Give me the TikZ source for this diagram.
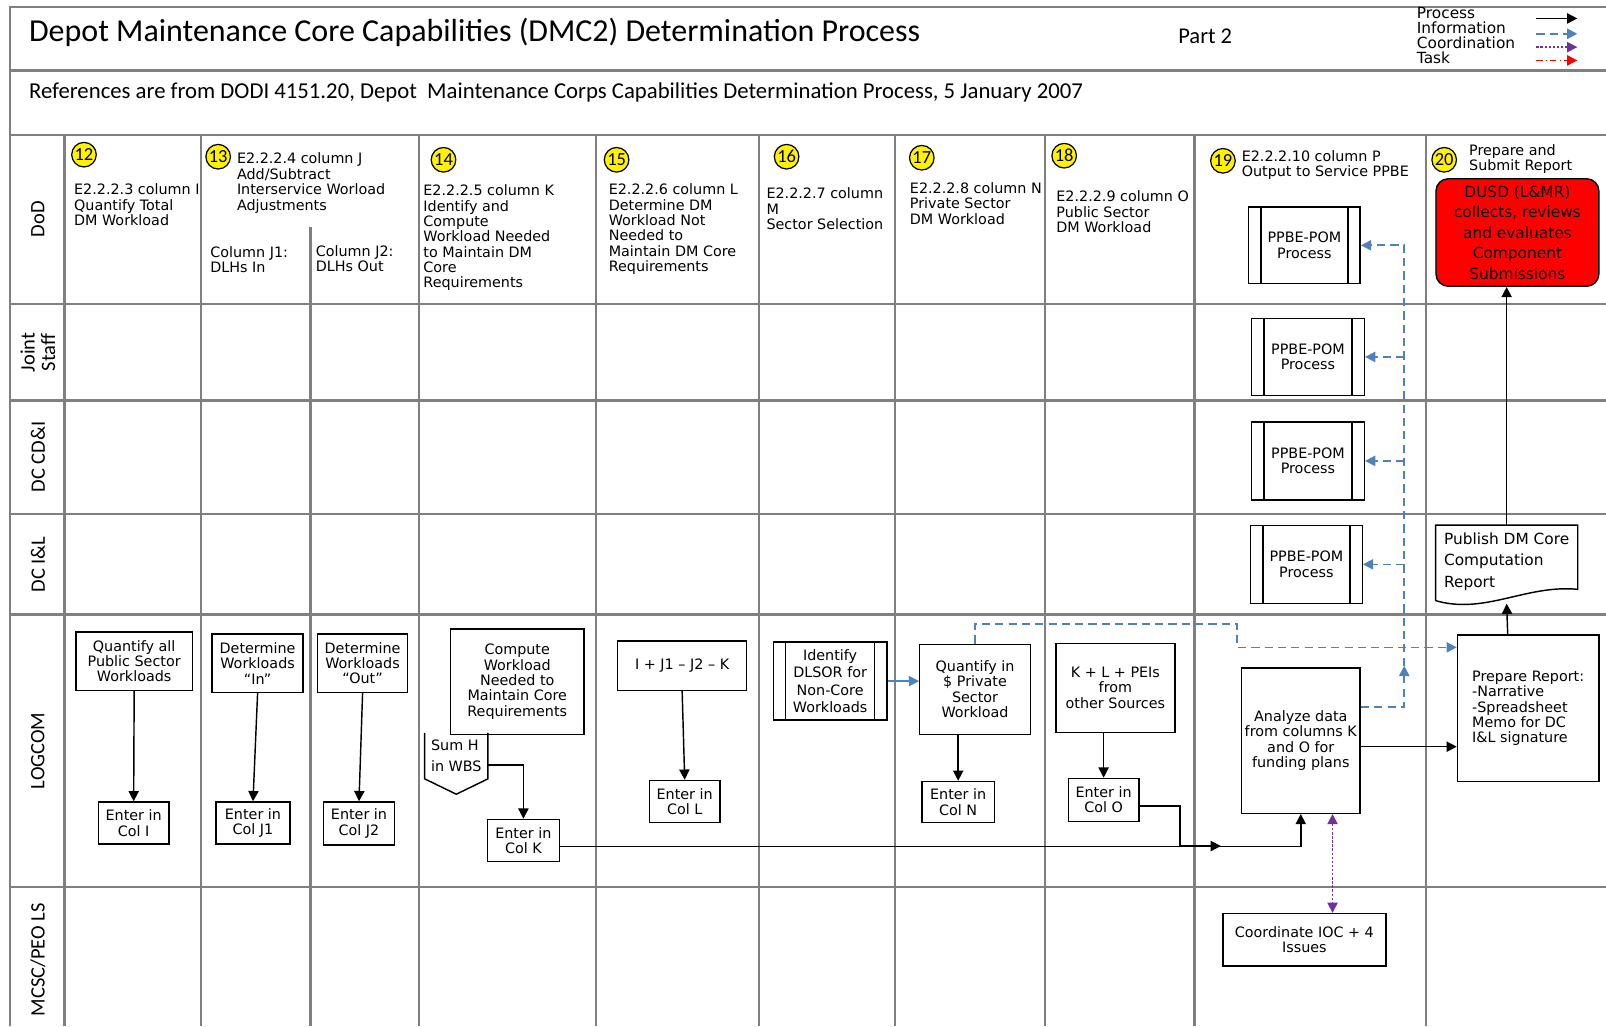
\documentclass[tikz,border=0pt]{standalone}
\usepackage{fontspec}
\setmainfont{DejaVu Sans}
\newfontfamily\calfont{Carlito}
\usetikzlibrary{arrows.meta}
\definecolor{infoblue}{RGB}{79,129,189}
\definecolor{coordpurple}{RGB}{112,48,160}
\definecolor{lanegray}{RGB}{128,128,128}
\newcommand{\boxfont}{\fontsize{7}{7.5}\selectfont}

\tikzset{
  laneline/.style={lanegray, line width=1.2pt},
  box/.style={draw, line width=0.7pt, fill=white, align=center, font=\boxfont, inner sep=1pt},
  predef/.style={box, path picture={
    \draw[line width=0.7pt] ([xshift=6pt]path picture bounding box.north west) -- ([xshift=6pt]path picture bounding box.south west);
    \draw[line width=0.7pt] ([xshift=-6pt]path picture bounding box.north east) -- ([xshift=-6pt]path picture bounding box.south east);}},
  badge/.style={circle, draw, fill=yellow, line width=0.6pt, minimum size=12pt, inner sep=0pt, font=\calfont\fontsize{9}{9}\selectfont},
  hdr/.style={anchor=north west, align=left, inner sep=0pt, font=\boxfont},
  lane/.style={rotate=90, align=center, inner sep=0pt, font=\calfont\fontsize{10}{10}\selectfont},
  proc/.style={line width=0.7pt, ->},
  info/.style={infoblue, line width=0.8pt, dash pattern=on 4pt off 2.5pt, ->},
  infosolid/.style={infoblue, line width=0.8pt, ->},
  coordln/.style={coordpurple, line width=0.7pt, dash pattern=on 1.2pt off 0.8pt, ->},
  taskln/.style={red, line width=0.7pt, dash pattern=on 3pt off 1.5pt on 0.8pt off 1.5pt, ->},
}

\begin{document}
\begin{tikzpicture}[x=0.5pt, y=-0.5pt, >={Triangle[length=5pt,width=5pt]}]
\useasboundingbox (0,0) rectangle (1568,1002);
% frame and swim lanes
\draw[laneline] (10,1002) -- (10,7) -- (1568,7);
\foreach \y in {69,132,297,391,502,600,866}
  \draw[laneline] (10,\y) -- (1568,\y);
\foreach \x in {63,196,409,582,741,874,1020,1166,1392}
  \draw[laneline] (\x,132) -- (\x,1002);
\draw[laneline] (303,222) -- (303,1002);

% title block
\node[anchor=west, inner sep=0pt, font=\calfont\fontsize{15.6}{15.6}\selectfont] (title) at (28,32) {Depot Maintenance Core Capabilities (DMC2) Determination Process};
\node[anchor=west, inner sep=0pt, font=\calfont\fontsize{11}{11}\selectfont] (part) at (1150,35) {Part 2};
\node[anchor=west, inner sep=0pt, font=\calfont\fontsize{11.1}{11.1}\selectfont] (refs) at (28,90) {References are from DODI 4151.20, Depot\ \ Maintenance Corps Capabilities Determination Process, 5 January 2007};

% legend
\node[hdr, font=\fontsize{7.5}{7.25}\selectfont] (legend) at (1383,7) {Process\\Information\\Coordination\\Task};
\foreach \y/\s in {18/proc,33/info,46/coordln,59/taskln} {
  \coordinate (la\y) at (1500,\y);
  \coordinate (lb\y) at (1540,\y);
  \draw[\s] (la\y) -- (lb\y);
}

% lane labels
\node[lane] (lDoD) at (37,214) {DoD};
\node[lane] (lJS) at (37,344) {Joint\\Staff};
\node[lane] (lCDI) at (37,446) {DC CD\&I};
\node[lane] (lIL) at (37,551) {DC I\&L};
\node[lane] (lLOG) at (37,733) {LOGCOM};
\node[lane] (lMCSC) at (37,937) {MCSC/PEO LS};

% step numbers
\foreach \n/\x/\y in {12/82/151,13/213/153,14/433/156,15/602/156,16/768/153,17/900/154,18/1039/152,19/1194/157,20/1410/156}
  \node[badge] (b\n) at (\x,\y) {\n};

% column headings
\node[hdr] (h12) at (72,179) {E2.2.2.3 column I\\Quantify Total\\DM Workload};
\node[hdr] (h13) at (231,149) {E2.2.2.4 column J\\Add/Subtract\\Interservice Worload\\Adjustments};
\node[hdr] (hJ1) at (205,240) {Column J1:\\DLHs In};
\node[hdr] (hJ2) at (308,239) {Column J2:\\DLHs Out};
\node[hdr] (h14) at (413,180) {E2.2.2.5 column K\\Identify and\\Compute\\Workload Needed\\to Maintain DM\\Core\\Requirements};
\node[hdr] (h15) at (594,179) {E2.2.2.6 column L\\Determine DM\\Workload Not\\Needed to\\Maintain DM Core\\Requirements};
\node[hdr] (h16) at (748,183) {E2.2.2.7 column\\M\\Sector Selection};
\node[hdr] (h17) at (888,178) {E2.2.2.8 column N\\Private Sector\\DM Workload};
\node[hdr] (h18) at (1031,186) {E2.2.2.9 column O\\Public Sector\\DM Workload};
\node[hdr, font=\fontsize{7}{7}\selectfont] (h19) at (1212,147) {E2.2.2.10 column P\\Output to Service PPBE};
\node[hdr, font=\fontsize{7}{7}\selectfont] (h20) at (1434,141) {Prepare and\\Submit Report};

% LOGCOM steps
\node[box, minimum width=57pt, minimum height=28.5pt] (qall) at (131,645.5) {Quantify all\\Public Sector\\Workloads};
\node[box, minimum width=34.5pt, minimum height=20.5pt] (colI) at (130.5,803.5) {Enter in\\Col I};
\node[box, minimum width=44.5pt, minimum height=28.5pt] (detin) at (251.5,647.5) {Determine\\Workloads\\“In”};
\node[box, minimum width=36pt, minimum height=20.5pt] (colJ1) at (247,803.5) {Enter in\\Col J1};
\node[box, minimum width=44pt, minimum height=28.5pt] (detout) at (354,647.5) {Determine\\Workloads\\“Out”};
\node[box, minimum width=34.5pt, minimum height=21pt] (colJ2) at (350.5,804) {Enter in\\Col J2};
\node[box, minimum width=65pt, minimum height=51.5pt] (compute) at (505,665.5) {Compute\\Workload\\Needed to\\Maintain Core\\Requirements};
\node[align=left, inner sep=1pt, minimum width=30.5pt, minimum height=22pt, font=\fontsize{7}{10}\selectfont] (sumH) at (445.5,738) {Sum H\\in WBS};
\draw[line width=0.7pt] (sumH.north west) -- (sumH.south west) -- ([yshift=-7.5pt]sumH.south) -- (sumH.south east) -- (sumH.north east);
\node[box, minimum width=35pt, minimum height=20.5pt] (colK) at (511,820.5) {Enter in\\Col K};
\node[box, minimum width=63pt, minimum height=24pt] (formula) at (666,650) {I + J1 -- J2 -- K};
\node[box, minimum width=34.5pt, minimum height=20.5pt] (colL) at (668.5,782.5) {Enter in\\Col L};
\node[predef, minimum width=55.5pt, minimum height=38pt, font=\fontsize{7}{8.5}\selectfont] (dlsor) at (810.5,665) {Identify\\DLSOR for\\Non-Core\\Workloads};
\node[box, minimum width=54pt, minimum height=44pt] (quantpriv) at (952,673) {Quantify in\\\$ Private\\Sector\\Workload};
\node[box, minimum width=35.5pt, minimum height=20pt] (colN) at (935.5,783) {Enter in\\Col N};
\node[box, minimum width=58pt, minimum height=43.5pt] (klpei) at (1089,671.5) {K + L + PEIs\\from\\other Sources};
\node[box, minimum width=34.5pt, minimum height=21pt] (colO) at (1077.5,781) {Enter in\\Col O};
\node[box, minimum width=58pt, minimum height=71pt] (analyze) at (1270,723) {Analyze data\\from columns K\\and O for\\funding plans};
\node[box, minimum width=69pt, minimum height=71.5pt, align=left] (prepare) at (1492,691.5) {Prepare Report:\\-Narrative\\-Spreadsheet\\Memo for DC\\I\&L signature};
\node[box, minimum width=79.5pt, minimum height=25.5pt] (coordi) at (1273.5,917.5) {Coordinate IOC + 4\\Issues};

% PPBE outputs and report
\node[predef, minimum width=54.5pt, minimum height=37.5pt] (ppbe1) at (1273.5,239.5) {PPBE-POM\\Process};
\node[predef, minimum width=55pt, minimum height=37.5pt] (ppbe2) at (1277,348.5) {PPBE-POM\\Process};
\node[predef, minimum width=55pt, minimum height=38pt] (ppbe3) at (1277,450) {PPBE-POM\\Process};
\node[predef, minimum width=54.5pt, minimum height=38pt] (ppbe4) at (1275.5,551) {PPBE-POM\\Process};
\node[draw, line width=0.7pt, fill=red, rounded corners=6pt, minimum width=79.5pt, minimum height=51pt, align=center, text=black, font=\fontsize{7.5}{10}\selectfont] (dusd) at (1481.5,227) {DUSD (L\&MR)\\collects, reviews\\and evaluates\\Component\\Submissions};
\node[align=left, inner sep=1pt, minimum width=69pt, minimum height=35pt, font=\fontsize{7.5}{10.5}\selectfont] (publish) at (1471,548) {Publish DM Core\\Computation\\Report};
\draw[line width=0.7pt] ([yshift=-1.5pt]publish.south west) -- (publish.north west) -- (publish.north east) -- ([yshift=4pt]publish.south east)
  .. controls +(-25pt,2.5pt) and +(24pt,-7pt) .. ([yshift=-1.5pt]publish.south west);

% process flow
\draw[proc] (qall.south) -- (colI.north);
\draw[proc] (detin.south) -- (colJ1.north);
\draw[proc] (detout.south) -- (colJ2.north);
\draw[proc] (formula.south) -- (colL.north);
\draw[proc] (quantpriv.south -| colN.north) -- (colN.north);
\draw[proc] (klpei.south -| colO.north) -- (colO.north);
\draw[proc] ([yshift=-4.5pt]sumH.east) -| (colK.north);
\coordinate (kjoin) at (1192,826);
\draw[proc] ([yshift=-3pt]colO.east) -| ([xshift=-20pt]kjoin) -- (kjoin);
\draw[proc] ([yshift=-3pt]colK.east) -| (analyze.south);
\draw[proc] ([yshift=-3pt]analyze.east) -- ([yshift=-3pt]analyze.east -| prepare.west);
\draw[proc] ([xshift=-10pt]prepare.north) -- ([yshift=-3pt]publish.south);
\draw[proc] (publish.north) -- (publish.north |- dusd.south);

% information flow
\draw[infosolid] (dlsor.east) -- (dlsor.east -| quantpriv.west);
\coordinate (bus) at (1371,650);
\draw[info] ([yshift=16.5pt]analyze.east) -| (bus);
\draw[info] (bus) |- (ppbe1.east);
\foreach \p in {ppbe2,ppbe3,ppbe4}
  \draw[info] (bus |- \p.east) -- (\p.east);
\coordinate (infobend) at (1208,609);
\draw[info] (quantpriv.north) |- (infobend) |- ([yshift=29.75pt]prepare.west);

% coordination
\coordinate (cx) at (1301,0);
\draw[coordln, <->] (analyze.south -| cx) -- (coordi.north -| cx);
\end{tikzpicture}
\end{document}
